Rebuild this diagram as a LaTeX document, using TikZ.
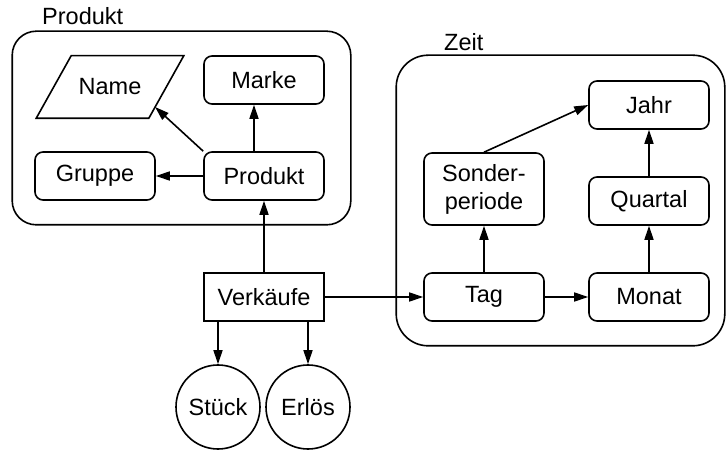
\documentclass[tikz,border=0pt]{standalone}
\usepackage{fontspec}
\setmainfont{Liberation Sans}
\usetikzlibrary{positioning, arrows.meta, calc, fit}

\tikzset{
  box/.style={draw, rounded corners=8pt, minimum width=120pt, minimum height=48pt, inner sep=2pt},
  fact/.style={draw, minimum width=120pt, minimum height=48pt, inner sep=2pt},
  measure/.style={draw, circle, minimum size=84pt, inner sep=0pt},
  attr/.style={minimum width=111pt, minimum height=61pt, inner sep=0pt},
  dim/.style={draw, rounded corners=#1, inner sep=0pt},
  dimlabel/.style={anchor=base west, inner sep=0pt},
}

\begin{document}
\begin{tikzpicture}[x=1pt, y=1pt, line width=1.6pt, >={Triangle[length=14pt,width=9pt]},
    node distance=96pt, on grid, font=\fontsize{23.5pt}{28pt}\selectfont]
  \useasboundingbox (0,0) rectangle (726,450);

  % fact and measures
  \node[fact] (verk) at (264,153) {Verkäufe};
  \node[measure] (stueck) [below left=110pt and 46pt of verk] {Stück};
  \node[measure] (erloes) [below right=110pt and 44pt of verk] {Erlös};

  % Produkt
  \node[box] (prod) [above=121pt of verk] {Produkt};
  \node[box] (marke) [above=of prod] {Marke};
  \node[box] (gruppe) [left=169pt of prod] {Gruppe};
  \node[attr] (name) [above left=89pt and 154pt of prod] {Name};
  \coordinate (nbl) at ($(name.south west)+(-17.5,0)$);
  \coordinate (nbr) at ($(name.south east)+(-17.5,0)$);
  \coordinate (ntr) at ($(name.north east)+(17.5,0)$);
  \coordinate (ntl) at ($(name.north west)+(17.5,0)$);
  \draw (nbl) -- (nbr) -- (ntr) -- (ntl) -- cycle;

  % Zeit
  \node[box] (tag) [right=220pt of verk] {Tag};
  \node[box] (monat) [right=165pt of tag] {Monat};
  \node[box] (quartal) [above=of monat] {Quartal};
  \node[box] (jahr) [above=of quartal] {Jahr};
  \node[box, minimum height=72pt, align=center] (sonder) [above=108pt of tag] {Sonder-\\periode};

  % dimensions
  \node[dim=24pt, fit={($(gruppe.south west)+(-22,-24)$) ($(marke.north east)+(26,24)$)}] (pcont) {};
  \node[dim=32pt, fit={($(tag.south west)+(-27,-24)$) ($(jahr.north east)+(15,25)$)}] (zcont) {};
  \node[dimlabel] (plabel) at ($(pcont.north west)+(30,6)$) {Produkt};
  \node[dimlabel] (zlabel) at ($(zcont.north west)+(48,4)$) {Zeit};

  \coordinate (nametip) at ($(nbr)!0.18!(ntr)$);

  \path[->]
    (verk) edge (prod)
    ([xshift=-10pt]prod.north) edge ([xshift=-10pt]marke.south)
    (prod.north west) edge (nametip)
    (prod) edge (gruppe)
    (verk) edge (tag)
    (tag) edge (monat)
    (tag) edge (sonder)
    (monat) edge (quartal)
    (quartal) edge (jahr)
    (sonder.north) edge (jahr.west)
    (stueck.north |- verk.south) edge (stueck)
    (erloes.north |- verk.south) edge (erloes)
    ;
\end{tikzpicture}
\end{document}
